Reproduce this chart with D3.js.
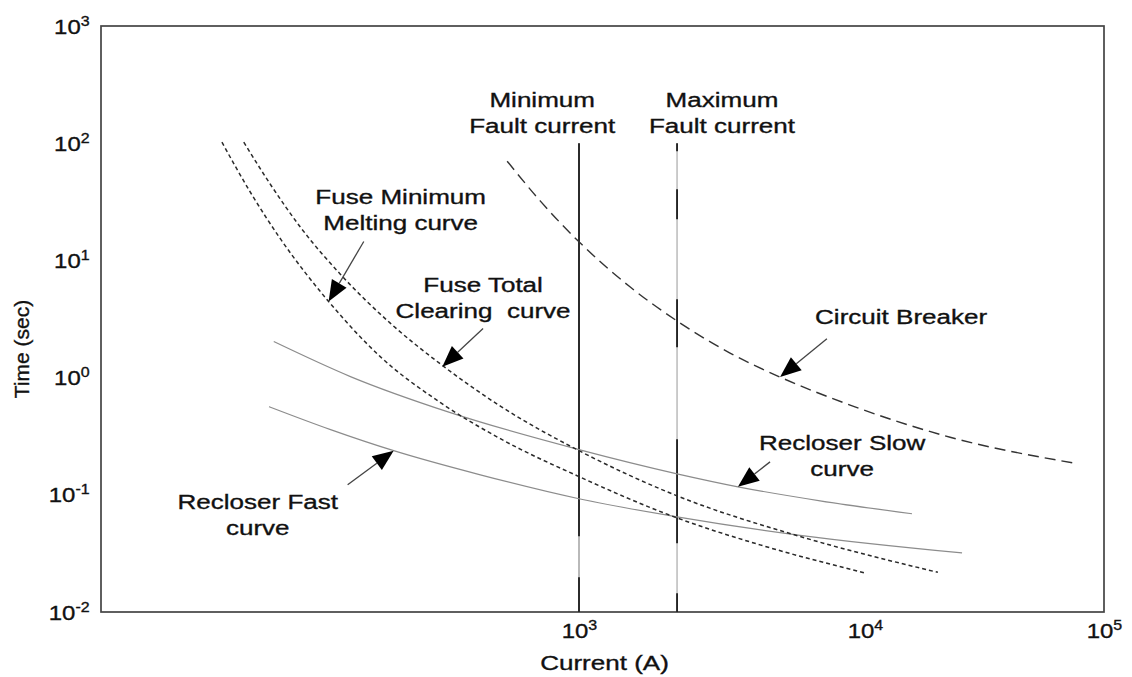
<!DOCTYPE html>
<html>
<head>
<meta charset="utf-8">
<script src="https://cdn.jsdelivr.net/npm/d3@7"></script>
<style>
  body { margin: 0; background: #fff; }
  svg { display: block; font-family: "Liberation Sans", Arial, Helvetica, sans-serif; }
  svg text { stroke: #111; stroke-width: 0.35px; }
</style>
</head>
<body>
<svg id="chart" width="1132" height="677"></svg>
<script>
// Time-current coordination of a fuse, a recloser and a circuit breaker.
// Current in amperes, operating time in seconds.

const fuseMinMeltI = [56, 70.8, 90.1, 132.5, 201, 327, 530, 1000, 2202, 4295, 10040];
const fuseMinMeltT = [102, 37.4, 15.1, 4.46, 1.51, 0.611, 0.301, 0.143, 0.0635, 0.0374, 0.0215];

const fuseTotalClearI = [66.8, 83.2, 105.7, 145.9, 218.4, 331.8, 530, 1000, 2202, 5929, 20180];
const fuseTotalClearT = [102, 43.8, 19.1, 7.59, 2.90, 1.27, 0.571, 0.238, 0.098, 0.0441, 0.0218];

const breakerI = [560, 731, 1000, 1507, 2254, 3373, 5047, 8870, 22700, 77800];
const breakerT = [70.2, 32.2, 14.4, 5.95, 2.93, 1.62, 1.01, 0.583, 0.310, 0.184];

const recloserSlowI = [85.1, 158, 354, 1000, 2202, 3595, 6966, 15730];
const recloserSlowT = [2.03, 1.02, 0.502, 0.243, 0.151, 0.117, 0.0889, 0.0689];

const recloserFastI = [81.9, 134.6, 224, 451, 1000, 2202, 5929, 25470];
const recloserFastT = [0.565, 0.360, 0.238, 0.148, 0.0925, 0.0649, 0.0451, 0.0319];

// Fault current limits (A) and the time span their markers cover (s)
const minFaultCurrent = 1000;
const maxFaultCurrent = 2202;
const faultLineTop = 100;

// Axis ticks
const xTickValues = [1e3, 1e4, 1e5];
const xTickExponents = ["3", "4", "5"];
const yTickValues = [1e-2, 1e-1, 1e0, 1e1, 1e2, 1e3];
const yTickExponents = ["-2", "-1", "0", "1", "2", "3"];

// Curve callouts: text, label centre (I, t), arrow tail (I, t), arrow tip (I, t)
const calloutText = [
  ["Fuse Minimum", "Melting curve"],
  ["Fuse Total", "Clearing  curve"],
  ["Circuit Breaker"],
  ["Recloser Slow", "curve"],
  ["Recloser Fast", "curve"]
];
const calloutLabelI = [237, 461, 14160, 8318, 74.8];
const calloutLabelT = [34.5, 6.11, 3.26, 0.278, 0.0871];
const arrowTailI = [176, 461, 7360, 4656, 154.5];
const arrowTailT = [14.5, 2.62, 2.15, 0.191, 0.1216];
const arrowTipI = [132.5, 331.8, 5047, 3595, 224];
const arrowTipT = [4.46, 1.24, 1.01, 0.117, 0.238];

const faultText = [["Minimum", "Fault current"], ["Maximum", "Fault current"]];
const faultLabelI = [743, 3162];
const faultLabelT = [233, 233];

// ---------------------------------------------------------------
const svg = d3.select("#chart");
const plot = { left: 101, right: 1104, top: 26, bottom: 612 };

// The current axis is logarithmic, drawn piecewise per decade
const x = d3.scaleLog()
  .domain([21.1, 1e3, 1e4, 1e5])
  .range([plot.left, 579, 865, plot.right]);
const y = d3.scaleLog()
  .domain([1e-2, 1e3])
  .range([plot.bottom, plot.top]);

const FONT = 21;
const STRETCH = 1.24;

function zip(I, T) { return I.map((v, i) => ({ I: v, t: T[i] })); }

const line = d3.line()
  .x(d => x(d.I))
  .y(d => y(d.t))
  .curve(d3.curveMonotoneX);

// Frame
svg.append("rect")
  .attr("x", plot.left).attr("y", plot.top)
  .attr("width", plot.right - plot.left).attr("height", plot.bottom - plot.top)
  .attr("fill", "none").attr("stroke", "#444").attr("stroke-width", 1.7);

// Y axis
const yAxis = svg.append("g")
  .attr("transform", `translate(${plot.left},0)`)
  .call(d3.axisLeft(y).tickValues(yTickValues).tickSize(0).tickPadding(0).tickFormat(() => ""));
yAxis.select(".domain").remove();
yAxis.selectAll(".tick text").each(function (d, i) {
  const t = d3.select(this)
    .attr("x", -10).attr("dy", null).attr("y", 7)
    .attr("fill", "#111")
    .attr("font-size", FONT)
    .attr("font-family", null)
    .attr("text-anchor", "end")
    .attr("transform", "scale(1.14,1)");
  t.append("tspan").text("10");
  t.append("tspan").attr("dy", -8).attr("font-size", 14).text(yTickExponents[i]);
});

// X axis
const xAxis = svg.append("g")
  .attr("transform", `translate(0,${plot.bottom})`)
  .call(d3.axisBottom(x).tickValues(xTickValues).tickSize(0).tickPadding(0).tickFormat(() => ""));
xAxis.select(".domain").remove();
xAxis.selectAll(".tick text").each(function (d, i) {
  const t = d3.select(this)
    .attr("x", 0).attr("dy", null).attr("y", 26)
    .attr("fill", "#111")
    .attr("font-size", FONT)
    .attr("font-family", null)
    .attr("text-anchor", "middle")
    .attr("transform", "scale(1.14,1)");
  t.append("tspan").text("10");
  t.append("tspan").attr("dy", -8).attr("font-size", 14).text(xTickExponents[i]);
});

// Axis titles
svg.append("text")
  .attr("transform", `translate(${(plot.left + plot.right) / 2 + 2},670) scale(${STRETCH},1)`)
  .attr("text-anchor", "middle").attr("font-size", FONT).attr("fill", "#111")
  .text("Current (A)");
svg.append("text")
  .attr("transform", `translate(29,349) rotate(-90)`)
  .attr("text-anchor", "middle").attr("font-size", FONT).attr("fill", "#111")
  .text("Time (sec)");

// Fault current markers
const faultG = svg.append("g");
function faultLine(I, overlayDash, baseColor, baseWidth) {
  const x0 = x(I);
  faultG.append("line")
    .attr("x1", x0).attr("x2", x0).attr("y1", y(faultLineTop)).attr("y2", plot.bottom)
    .attr("stroke", baseColor).attr("stroke-width", baseWidth);
  faultG.append("line")
    .attr("x1", x0).attr("x2", x0).attr("y1", y(faultLineTop)).attr("y2", plot.bottom)
    .attr("stroke", "#1c1c1c").attr("stroke-width", 1.8)
    .attr("stroke-dasharray", overlayDash);
}
faultLine(minFaultCurrent, "393,41,200", "#a8a8a8", 1.6);
faultLine(maxFaultCurrent, "8,38,30,80,48,92,104,50,200", "#b0b0b0", 1.3);

// Curves
const curves = svg.append("g").attr("fill", "none");
curves.append("path").datum(zip(recloserSlowI, recloserSlowT))
  .attr("d", line).attr("stroke", "#8c8c8c").attr("stroke-width", 1.2);
curves.append("path").datum(zip(recloserFastI, recloserFastT))
  .attr("d", line).attr("stroke", "#8c8c8c").attr("stroke-width", 1.2);
curves.append("path").datum(zip(fuseMinMeltI, fuseMinMeltT))
  .attr("d", line).attr("stroke", "#2a2a2a").attr("stroke-width", 1.5)
  .attr("stroke-dasharray", "4,3");
curves.append("path").datum(zip(fuseTotalClearI, fuseTotalClearT))
  .attr("d", line).attr("stroke", "#2a2a2a").attr("stroke-width", 1.5)
  .attr("stroke-dasharray", "4,3");
curves.append("path").datum(zip(breakerI, breakerT))
  .attr("d", line).attr("stroke", "#333").attr("stroke-width", 1.4)
  .attr("stroke-dasharray", "11,6");

// Multi-line labels, horizontally widened text
function label(cx, cy, lines) {
  const g = svg.append("g").attr("transform", `translate(${cx},${cy}) scale(${STRETCH},1)`);
  lines.forEach((s, k) => {
    g.append("text")
      .attr("x", 0).attr("y", k * 26 + 7)
      .attr("text-anchor", "middle")
      .attr("font-size", FONT).attr("fill", "#111")
      .style("white-space", "pre")
      .text(s);
  });
}

faultText.forEach((lines, i) => label(x(faultLabelI[i]), y(faultLabelT[i]), lines));

// Callouts with arrows
function arrowHead(x1, y1, x2, y2, len, hw) {
  const dx = x2 - x1, dy = y2 - y1, L = Math.hypot(dx, dy);
  const ux = dx / L, uy = dy / L;
  const bx = x2 - ux * len, by = y2 - uy * len;
  return { bx, by, d: `M${x2},${y2}L${bx - uy * hw},${by + ux * hw}L${bx + uy * hw},${by - ux * hw}Z` };
}

calloutText.forEach((lines, i) => {
  label(x(calloutLabelI[i]), y(calloutLabelT[i]), lines);
  const x1 = x(arrowTailI[i]), y1 = y(arrowTailT[i]);
  const x2 = x(arrowTipI[i]), y2 = y(arrowTipT[i]);
  const h = arrowHead(x1, y1, x2, y2, 21, 8.5);
  svg.append("line")
    .attr("x1", x1).attr("y1", y1).attr("x2", h.bx).attr("y2", h.by)
    .attr("stroke", "#444").attr("stroke-width", 1.3);
  svg.append("path").attr("d", h.d).attr("fill", "#000");
});
</script>
</body>
</html>
